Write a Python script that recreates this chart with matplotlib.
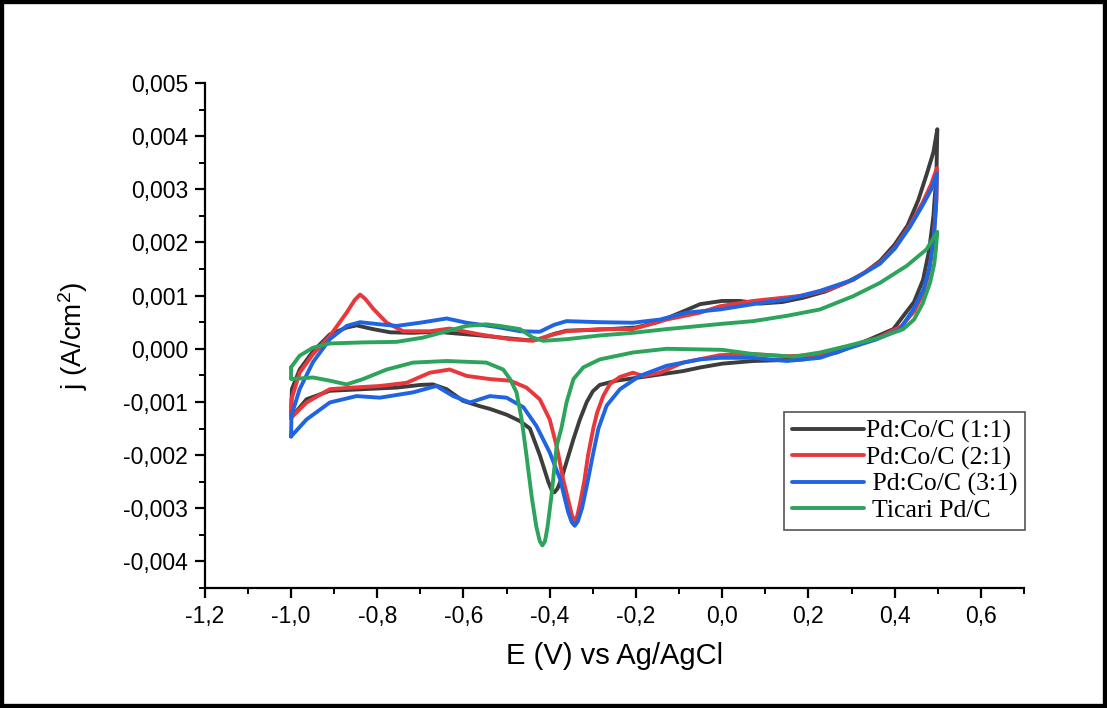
import numpy as np
import matplotlib
matplotlib.use("Agg")
from matplotlib import pyplot as plt
from matplotlib.patches import Rectangle
from matplotlib.ticker import MultipleLocator, FuncFormatter

# CV loops: forward scan -1.0 -> 0.5 V, then back to -1.0 V
e_11 = [-1.000, -0.998, -0.980, -0.949, -0.910, -0.871, -0.848, -0.810, -0.770, -0.720,
        -0.660, -0.620, -0.560, -0.500, -0.450, -0.423, -0.390, -0.361, -0.284, -0.200,
        -0.150, -0.097, -0.051, 0.000, 0.041, 0.088, 0.140, 0.188, 0.240, 0.289,
        0.330, 0.366, 0.400, 0.430, 0.455, 0.475, 0.490, 0.499,
        0.497, 0.490, 0.480, 0.466, 0.445, 0.428, 0.397, 0.343, 0.266, 0.188,
        0.072, 0.000, -0.050, -0.091, -0.167, -0.245, -0.284, -0.300, -0.314, -0.330,
        -0.345, -0.358, -0.373, -0.382, -0.389, -0.395, -0.403, -0.412, -0.423, -0.446, -0.469, -0.500,
        -0.539, -0.562, -0.601, -0.639, -0.671, -0.700, -0.755, -0.833, -0.910, -0.964, -1.000]
j_11 = [-0.00130, -0.00076, -0.00039, -0.00005, 0.00027, 0.00040, 0.00044, 0.00037, 0.00031, 0.00030,
        0.00032, 0.00029, 0.00025, 0.00020, 0.00016, 0.00018, 0.00028, 0.00034, 0.00036, 0.00040,
        0.00050, 0.00068, 0.00084, 0.00090, 0.00090, 0.00085, 0.00088, 0.00096, 0.00108, 0.00125,
        0.00143, 0.00165, 0.00196, 0.00232, 0.00280, 0.00330, 0.00370, 0.00413,
        0.00330, 0.00250, 0.00185, 0.00130, 0.00088, 0.00070, 0.00037, 0.00018, -0.00007, -0.00020,
        -0.00023, -0.00028, -0.00035, -0.00042, -0.00051, -0.00060, -0.00068, -0.00080, -0.00100, -0.00133,
        -0.00170, -0.00205, -0.00245, -0.00263, -0.00270, -0.00267, -0.00251, -0.00228, -0.00200, -0.00150, -0.00136, -0.00124,
        -0.00113, -0.00108, -0.00098, -0.00076, -0.00067, -0.00068, -0.00073, -0.00076, -0.00079, -0.00095, -0.00130]

e_21 = [-1.000, -0.999, -0.980, -0.949, -0.910, -0.871, -0.852, -0.840, -0.828, -0.809, -0.778, -0.740,
        -0.678, -0.632, -0.562, -0.492, -0.439, -0.400, -0.361, -0.284, -0.207, -0.129,
        -0.051, -0.005, 0.072, 0.188, 0.250, 0.304, 0.366, 0.400, 0.436, 0.465,
        0.485, 0.498,
        0.497, 0.491, 0.481, 0.467, 0.445, 0.415, 0.360, 0.289, 0.227, 0.150,
        0.072, -0.005, -0.091, -0.144, -0.184, -0.207, -0.237, -0.260, -0.276, -0.290,
        -0.299, -0.311, -0.320, -0.330, -0.336, -0.342, -0.348, -0.353, -0.369, -0.384, -0.400, -0.423,
        -0.454, -0.492, -0.539, -0.593, -0.632, -0.678, -0.732, -0.794, -0.856, -0.910,
        -0.964, -1.000]
j_21 = [-0.00130, -0.00095, -0.00045, -0.00010, 0.00024, 0.00068, 0.00092, 0.00102, 0.00094, 0.00075, 0.00049, 0.00033,
        0.00033, 0.00038, 0.00027, 0.00018, 0.00015, 0.00025, 0.00033, 0.00037, 0.00037, 0.00055,
        0.00068, 0.00080, 0.00090, 0.00100, 0.00112, 0.00130, 0.00162, 0.00190, 0.00233, 0.00275,
        0.00310, 0.00340,
        0.00280, 0.00210, 0.00150, 0.00105, 0.00070, 0.00042, 0.00020, 0.00002, -0.00012, -0.00014,
        -0.00010, -0.00012, -0.00026, -0.00045, -0.00051, -0.00045, -0.00053, -0.00066, -0.00089, -0.00120,
        -0.00150, -0.00200, -0.00250, -0.00292, -0.00314, -0.00324, -0.00315, -0.00298, -0.00245, -0.00183, -0.00133, -0.00095,
        -0.00073, -0.00060, -0.00057, -0.00051, -0.00039, -0.00045, -0.00064, -0.00070, -0.00073, -0.00076,
        -0.00101, -0.00130]

e_31 = [-1.000, -0.999, -0.980, -0.949, -0.910, -0.871, -0.840, -0.794, -0.755, -0.701,
        -0.639, -0.593, -0.523, -0.469, -0.423, -0.390, -0.361, -0.284, -0.207, -0.144,
        -0.082, -0.005, 0.072, 0.150, 0.227, 0.304, 0.366, 0.400, 0.436, 0.465,
        0.485, 0.498,
        0.496, 0.490, 0.480, 0.466, 0.443, 0.413, 0.359, 0.289, 0.227, 0.150,
        0.072, -0.005, -0.051, -0.129, -0.191, -0.237, -0.268, -0.287, -0.300, -0.312,
        -0.325, -0.335, -0.342, -0.349, -0.357, -0.376, -0.400, -0.431, -0.461, -0.500, -0.539, -0.562,
        -0.585, -0.624, -0.663, -0.717, -0.794, -0.848, -0.910, -0.964, -1.000]
j_31 = [-0.00165, -0.00126, -0.00076, -0.00025, 0.00018, 0.00043, 0.00050, 0.00046, 0.00043, 0.00049,
        0.00057, 0.00049, 0.00041, 0.00033, 0.00032, 0.00045, 0.00052, 0.00050, 0.00049, 0.00055,
        0.00068, 0.00074, 0.00084, 0.00093, 0.00109, 0.00130, 0.00160, 0.00188, 0.00230, 0.00270,
        0.00300, 0.00330,
        0.00270, 0.00200, 0.00150, 0.00110, 0.00074, 0.00037, 0.00018, 0.00000, -0.00017, -0.00023,
        -0.00017, -0.00017, -0.00020, -0.00032, -0.00051, -0.00076, -0.00107, -0.00150, -0.00200, -0.00250,
        -0.00300, -0.00325, -0.00333, -0.00326, -0.00308, -0.00245, -0.00195, -0.00145, -0.00110, -0.00092, -0.00089, -0.00095,
        -0.00101, -0.00089, -0.00070, -0.00082, -0.00092, -0.00089, -0.00101, -0.00133, -0.00165]

e_com = [-1.000, -0.980, -0.949, -0.910, -0.833, -0.755, -0.694, -0.639, -0.593, -0.547,
         -0.516, -0.469, -0.439, -0.415, -0.361, -0.284, -0.207, -0.129, -0.051, 0.000,
         0.072, 0.150, 0.227, 0.304, 0.366, 0.428, 0.474, 0.499,
         0.496, 0.492, 0.482, 0.465, 0.445, 0.420, 0.366, 0.289, 0.227, 0.165,
         0.072, 0.000, -0.129, -0.207, -0.284, -0.322, -0.345, -0.361, -0.373, -0.384,
         -0.390, -0.396, -0.405, -0.411, -0.417, -0.423, -0.431, -0.442, -0.454, -0.465, -0.477, -0.492,
         -0.508, -0.547, -0.639, -0.717, -0.778, -0.833, -0.871, -0.910, -0.949, -1.000, -1.000]
j_com = [-0.00035, -0.00013, 0.00002, 0.00010, 0.00012, 0.00013, 0.00021, 0.00033, 0.00043, 0.00046,
         0.00043, 0.00037, 0.00021, 0.00015, 0.00018, 0.00025, 0.00030, 0.00037, 0.00043, 0.00047,
         0.00052, 0.00062, 0.00074, 0.00099, 0.00124, 0.00156, 0.00187, 0.00220,
         0.00190, 0.00160, 0.00124, 0.00085, 0.00055, 0.00037, 0.00021, 0.00005, -0.00007, -0.00015,
         -0.00010, -0.00002, 0.00000, -0.00007, -0.00020, -0.00035, -0.00057, -0.00101, -0.00150, -0.00183,
         -0.00230, -0.00277, -0.00335, -0.00362, -0.00370, -0.00362, -0.00335, -0.00277, -0.00200, -0.00133, -0.00082, -0.00057,
         -0.00039, -0.00026, -0.00023, -0.00026, -0.00039, -0.00057, -0.00067, -0.00060, -0.00054, -0.00057, -0.00035]

labels = ["Pd:Co/C (1:1)", "Pd:Co/C (2:1)", " Pd:Co/C (3:1)", " Ticari Pd/C"]
colors = ["#3d3d3d", "#e8383b", "#1f64e2", "#2ea35c"]

plt.rcParams["font.family"] = ["Liberation Sans", "DejaVu Sans"]
plt.rcParams["mathtext.default"] = "regular"

fig = plt.figure(figsize=(11.07, 7.08), dpi=100)
ax = fig.add_axes([0.185, 0.1695, 0.740, 0.7133])

curves = [(e_11, j_11), (e_21, j_21), (e_31, j_31), (e_com, j_com)]
for (e, j), lab, col in zip(curves, labels, colors):
    ax.plot(e, j, color=col, lw=2.8, label=lab, solid_joinstyle="round", solid_capstyle="round")

ax.set_xlim(-1.2, 0.7)
ax.set_ylim(-0.0045, 0.005)
ax.spines["top"].set_visible(False)
ax.spines["right"].set_visible(False)
for s in ["left", "bottom"]:
    ax.spines[s].set_linewidth(1.6)

ax.xaxis.set_major_locator(MultipleLocator(0.2))
ax.xaxis.set_minor_locator(MultipleLocator(0.1))
ax.yaxis.set_major_locator(MultipleLocator(0.001))
ax.yaxis.set_minor_locator(MultipleLocator(0.0005))
ax.xaxis.set_major_formatter(FuncFormatter(lambda v, p: ("%.1f" % v).replace(".", ",").replace("-0,0", "0,0")))
ax.yaxis.set_major_formatter(FuncFormatter(lambda v, p: ("%.3f" % v).replace(".", ",").replace("-0,000", "0,000")))
ax.tick_params(which="major", direction="out", length=7, width=1.6, labelsize=16.5, pad=5)
ax.tick_params(which="minor", direction="out", length=4, width=1.4)

ax.set_xlabel("E (V) vs Ag/AgCl", fontsize=21, labelpad=10)
ax.set_ylabel("j (A/cm$^{2}$)", fontsize=20, labelpad=24)

leg = ax.legend(loc="upper left", bbox_to_anchor=(0.707, 0.3485), borderaxespad=0,
                fancybox=False, edgecolor="#555555", framealpha=1,
                prop={"family": "Liberation Serif", "size": 18.5},
                handlelength=2.8, handletextpad=0.1, labelspacing=0.12,
                borderpad=0.3)
leg.get_frame().set_linewidth(1.2)

fig.patches.append(Rectangle((0, 0), 1, 1, transform=fig.transFigure, fill=False,
                             edgecolor="black", lw=6, zorder=10))

fig.savefig("out.png", dpi=100)
